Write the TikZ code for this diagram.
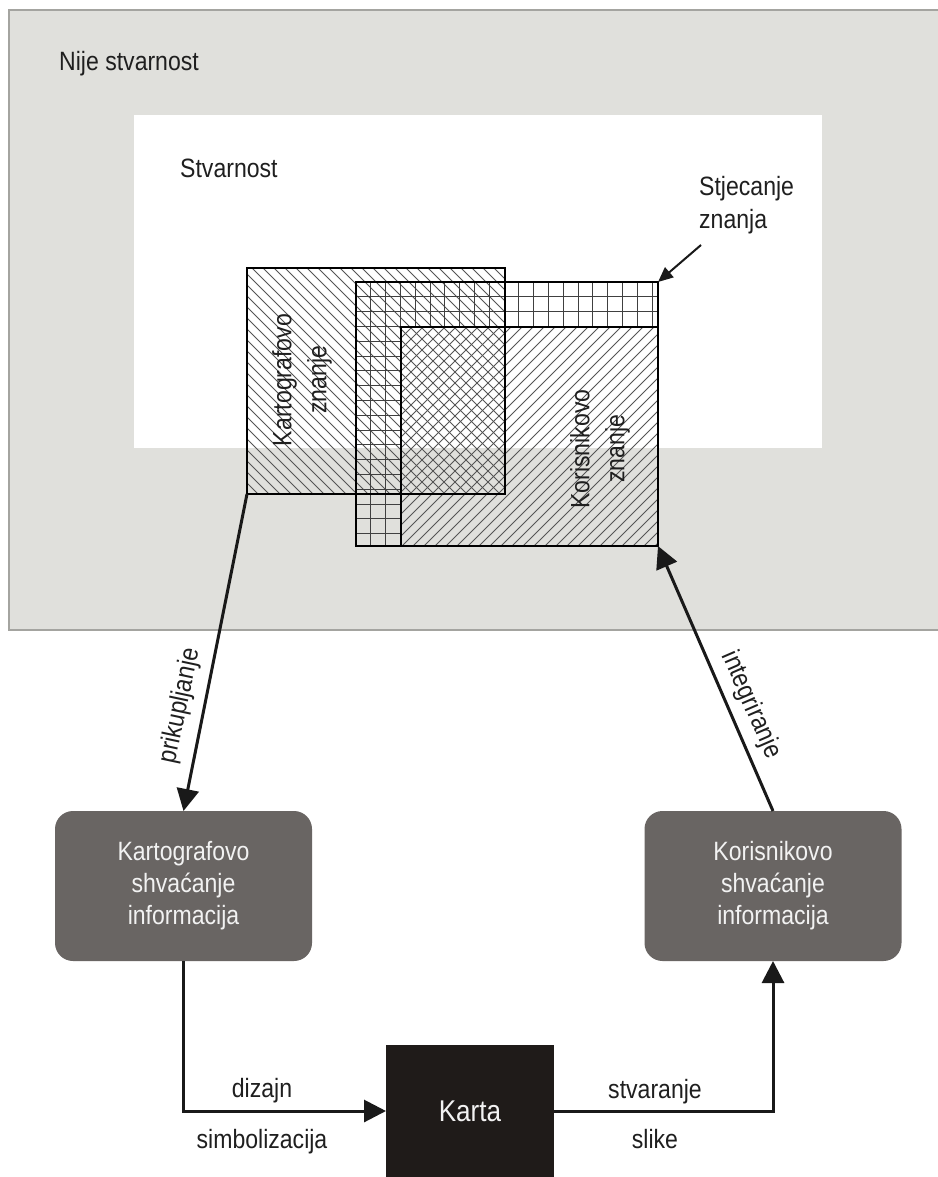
\documentclass[tikz,border=0pt]{standalone}
\usepackage{fontspec}
\setmainfont[FakeStretch=0.87]{Liberation Sans}
\usetikzlibrary{arrows.meta}
\definecolor{outergrey}{HTML}{E0E0DC}
\definecolor{edgegrey}{HTML}{A4A4A0}
\definecolor{boxgrey}{HTML}{696563}
\definecolor{mapblack}{HTML}{1F1B19}
\definecolor{hatchgrey}{HTML}{555555}
\begin{document}
\begin{tikzpicture}[x=1pt,y=-1pt,
  lbl/.style={font=\fontsize{26.5}{33}\selectfont, inner sep=0pt, text=black!88},
  vlbl/.style={lbl, rotate=90, align=center, font=\fontsize{26.5}{35}\selectfont},
  area/.style={draw=black, line width=2pt, inner sep=0pt, outer sep=0pt, anchor=north west},
  hatch/.style={draw=hatchgrey, line width=0.8pt},
  gridln/.style={draw=black!75, line width=0.9pt},
  infobox/.style={fill=boxgrey, rounded corners=18pt, minimum width=257pt, minimum height=150pt,
    text=white!95!black, align=center, inner sep=0pt, outer sep=0pt,
    font=\fontsize{26.5}{32}\selectfont},
  flow/.style={line width=3pt, draw=black!90, -{Triangle[length=22pt,width=22pt]}},
  pointer/.style={line width=2pt, draw=black!90, -{Triangle[length=15pt,width=13pt]}},
]
\useasboundingbox (0,0) rectangle (937,1177);
\fill[white] (0,0) rectangle (937,1177);

% outer field and the white inner field
\filldraw[fill=outergrey, draw=edgegrey, line width=1.2pt] (9,10) rectangle (950,630);
\fill[white] (134,115) rectangle (822,448);

% diagonal hatch of the cartographer's knowledge
\begin{scope}
  \clip (247,268) rectangle (505,494);
  \foreach \c in {0,11,...,495} \draw[hatch] ({21+\c},268) -- ({247+\c},494);
\end{scope}

% diagonal hatch of the user's knowledge
\begin{scope}
  \clip (401,327) rectangle (658,546);
  \foreach \c in {0,11,...,484} \draw[hatch] ({182+\c},546) -- ({401+\c},327);
\end{scope}

% grid of the knowledge acquisition band (L-shaped)
\begin{scope}
  \clip (356,282) rectangle (401,546);
  \foreach \k in {1,...,20} \draw[gridln] ({356+14.8*\k},282) -- ++(0,264);
  \foreach \k in {1,...,17} \draw[gridln] (356,{282+14.8*\k}) -- ++(302,0);
\end{scope}
\begin{scope}
  \clip (401,282) rectangle (658,327);
  \foreach \k in {1,...,20} \draw[gridln] ({356+14.8*\k},282) -- ++(0,264);
  \foreach \k in {1,...,17} \draw[gridln] (356,{282+14.8*\k}) -- ++(302,0);
\end{scope}

% outlines of the three knowledge areas
\node[area, minimum width=258pt, minimum height=226pt] (K) at (247,268) {};
\node[area, minimum width=302pt, minimum height=264pt] (G) at (356,282) {};
\node[area, minimum width=257pt, minimum height=219pt] (R) at (401,327) {};

% labels of the upper part
\node[lbl, anchor=base west] (nije) at (59,71) {Nije stvarnost};
\node[lbl, anchor=base west] (stv) at (180,178) {Stvarnost};
\node[lbl, anchor=north west, align=left] (stj) at (699,176) {Stjecanje\\znanja};
\node[vlbl] (klbl) at (302,380) {Kartografovo\\znanje};
\node[vlbl] (ulbl) at (600,449) {Korisnikovo\\znanje};
\coordinate (stjtail) at (701,245);
\draw[pointer] (stjtail) -- (G.north east);

% process boxes
\node[infobox] (kbox) at (183.5,886) {Kartografovo\\shvaćanje\\informacija};
\node[infobox] (ubox) at (773,886) {Korisnikovo\\shvaćanje\\informacija};
\node[fill=mapblack, minimum width=168pt, minimum height=132pt, inner sep=0pt, outer sep=0pt,
  text=white!95!black, font=\fontsize{30}{36}\selectfont] (karta) at (470,1111) {\raisebox{-6pt}{Karta}};

% flows
\draw[flow] (K.south west) -- (kbox.north);
\draw[flow] (ubox.north) -- (R.south east);
\draw[flow] (kbox.south) |- (karta.west);
\draw[flow] (karta.east) -| (ubox.south);

% flow labels
\node[lbl, rotate=78] (prik) at (180,706) {prikupljanje};
\node[lbl, rotate=-66.5] (integ) at (751,705) {integriranje};
\node[lbl, anchor=base] (diz) at (262,1097) {dizajn};
\node[lbl, anchor=base] (simb) at (262,1148) {simbolizacija};
\node[lbl, anchor=base] (stvar) at (655,1098) {stvaranje};
\node[lbl, anchor=base] (slike) at (655,1148) {slike};
\end{tikzpicture}
\end{document}
